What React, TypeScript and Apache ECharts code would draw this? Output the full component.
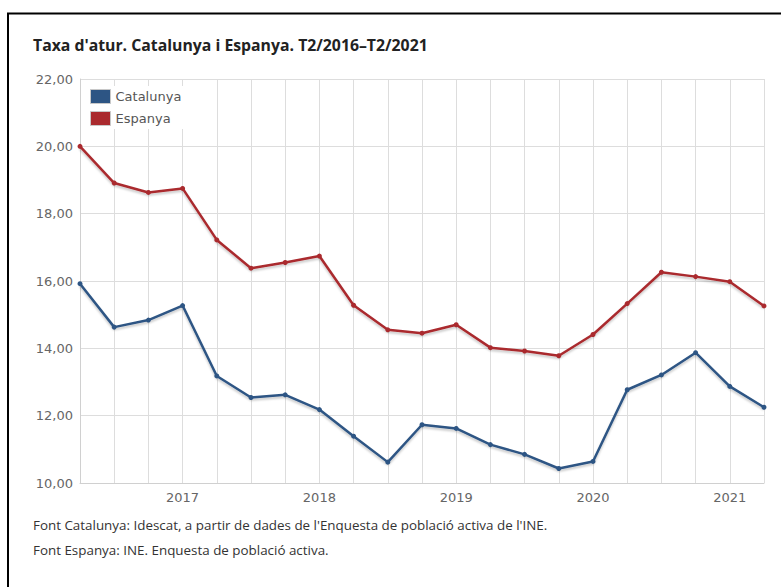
import React, { useEffect, useRef } from "react";
import * as echarts from "echarts";

const quarters = [
  "2016T2", "2016T3", "2016T4",
  "2017T1", "2017T2", "2017T3", "2017T4",
  "2018T1", "2018T2", "2018T3", "2018T4",
  "2019T1", "2019T2", "2019T3", "2019T4",
  "2020T1", "2020T2", "2020T3", "2020T4",
  "2021T1", "2021T2",
];

const catalunya = [
  15.92, 14.63, 14.84, 15.27,
  13.18, 12.54, 12.62, 12.18,
  11.39, 10.62, 11.73, 11.62,
  11.14, 10.85, 10.43, 10.64,
  12.77, 13.21, 13.87, 12.87,
  12.25,
];

const espanya = [
  20.0, 18.91, 18.63, 18.75,
  17.22, 16.38, 16.55, 16.74,
  15.28, 14.55, 14.45, 14.7,
  14.02, 13.92, 13.78, 14.41,
  15.33, 16.26, 16.13, 15.98,
  15.26,
];

const seriesNames = ["Catalunya", "Espanya"];
const title = "Taxa d'atur. Catalunya i Espanya. T2/2016–T2/2021";
const notes = [
  "Font Catalunya: Idescat, a partir de dades de l'Enquesta de població activa de l'INE.",
  "Font Espanya: INE. Enquesta de població activa.",
];

const BLUE = "#2d5584";
const RED = "#aa2a2e";

export default function App() {
  const ref = useRef<HTMLDivElement>(null);
  useEffect(() => {
    if (!ref.current) return;
    const chart = echarts.init(ref.current, null, { renderer: "svg" });
    const lineShadow = {
      shadowColor: "rgba(0,0,0,0.22)",
      shadowBlur: 2,
      shadowOffsetY: 2,
    };
    chart.setOption({
      animation: false,
      backgroundColor: "#ffffff",
      textStyle: { fontFamily: "DejaVu Sans" },
      grid: { left: 80, right: 17, top: 79, bottom: 104, containLabel: false },
      legend: {
        orient: "vertical",
        left: 86,
        top: 86,
        padding: [3, 4, 3, 4],
        backgroundColor: "#ffffff",
        itemWidth: 20,
        itemHeight: 14,
        itemGap: 7,
        icon: "rect",
        data: seriesNames,
        textStyle: { color: "#555555", fontSize: 13, fontFamily: "DejaVu Sans" },
        itemStyle: { borderColor: "#c8c8c8", borderWidth: 1 },
      },
      xAxis: {
        type: "category",
        data: quarters,
        boundaryGap: false,
        axisLine: { show: true, lineStyle: { color: "#d0d0d0", width: 1 } },
        axisTick: { show: false },
        axisLabel: {
          interval: (_i: number, v: string) => v.endsWith("T1"),
          formatter: (v: string) => v.slice(0, 4),
          color: "#666666",
          fontSize: 13,
          margin: 8,
          fontFamily: "DejaVu Sans",
        },
        splitLine: { show: true, interval: 0, lineStyle: { color: "#dddddd", width: 1 } },
      },
      yAxis: {
        type: "value",
        min: 10,
        max: 22,
        interval: 2,
        axisLine: { show: true, lineStyle: { color: "#d0d0d0", width: 1 } },
        axisTick: { show: false },
        axisLabel: {
          formatter: (v: number) => v.toFixed(2).replace(".", ","),
          color: "#666666",
          fontSize: 13,
          margin: 7,
          fontFamily: "DejaVu Sans",
        },
        splitLine: { show: true, lineStyle: { color: "#dddddd", width: 1 } },
      },
      series: [
        {
          name: seriesNames[0],
          type: "line",
          data: catalunya,
          color: BLUE,
          symbol: "circle",
          symbolSize: 5,
          lineStyle: { width: 2.5, color: BLUE, ...lineShadow },
          itemStyle: { color: BLUE },
          z: 3,
        },
        {
          name: seriesNames[1],
          type: "line",
          data: espanya,
          color: RED,
          symbol: "circle",
          symbolSize: 5,
          lineStyle: { width: 2.5, color: RED, ...lineShadow },
          itemStyle: { color: RED },
          z: 3,
        },
      ],
      graphic: [
        {
          type: "line",
          shape: { x1: 7, y1: 13.5, x2: 781, y2: 13.5 },
          style: { stroke: "#000000", lineWidth: 2 },
          z: 10,
        },
        {
          type: "line",
          shape: { x1: 8, y1: 13, x2: 8, y2: 587 },
          style: { stroke: "#000000", lineWidth: 2 },
          z: 10,
        },
        {
          type: "text",
          left: 33,
          top: 37,
          style: {
            text: title,
            fill: "#222222",
            font: "bold 15.8px 'Open Sans'",
          },
        },
        {
          type: "text",
          left: 33,
          top: 518,
          style: { text: notes[0], fill: "#333333", font: "13.4px 'Open Sans'" },
        },
        {
          type: "text",
          left: 33,
          top: 543,
          style: { text: notes[1], fill: "#333333", font: "13.4px 'Open Sans'" },
        },
      ],
    });
    return () => chart.dispose();
  }, []);
  return (
    <div
      ref={ref}
      style={{ position: "fixed", left: 0, top: 0, width: 781, height: 587 }}
    />
  );
}
